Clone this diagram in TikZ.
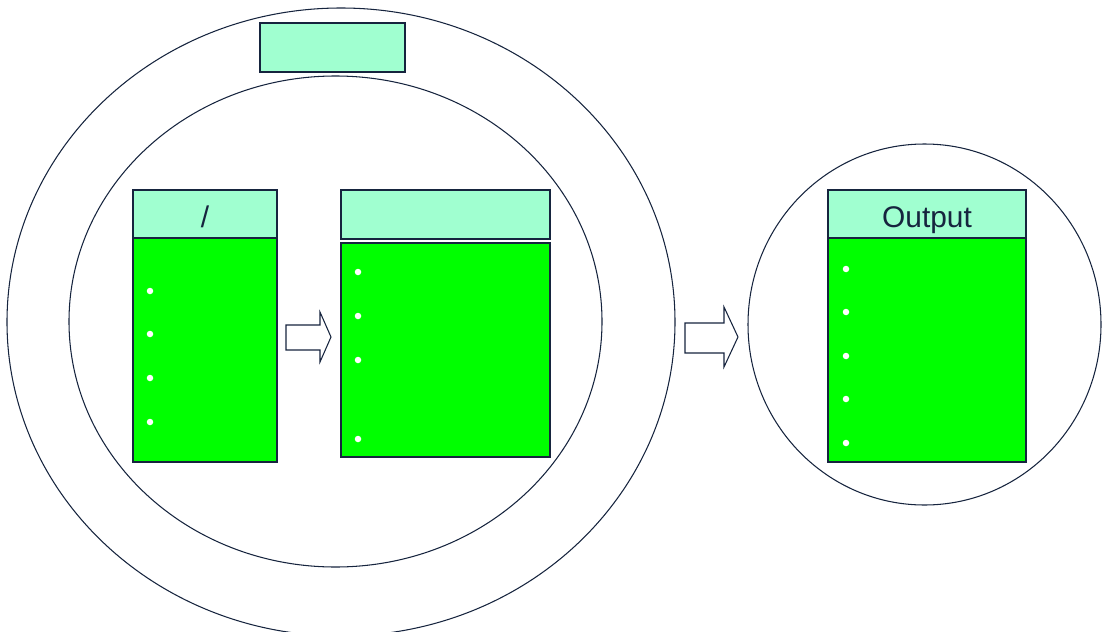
\documentclass[tikz,border=0pt]{standalone}
\usepackage{fontspec}
\setmainfont{Liberation Sans}
\usetikzlibrary{shapes.geometric}
\definecolor{navy}{RGB}{22,36,62}
\definecolor{mint}{RGB}{160,255,208}
\definecolor{lime}{RGB}{0,255,0}
\tikzset{
  ring/.style={draw=navy, line width=0.6pt, ellipse, inner sep=0pt},
  hdr/.style={draw=navy, line width=0.7pt, fill=mint, rectangle, inner sep=0pt, text=navy, font=\fontsize{17}{20}\selectfont},
  body/.style={draw=navy, line width=0.7pt, fill=lime, rectangle, inner sep=0pt},
  dot/.style={circle, fill=white, inner sep=0pt, minimum size=0.13cm},
  blockarrow/.style={draw=navy, line width=0.6pt, fill=white, line join=miter}
}
\newcommand\hdrtext[1]{\smash{\raisebox{-7.9pt}{#1}}}
\begin{document}
\begin{tikzpicture}[x=0.02cm, y=-0.02cm]
\useasboundingbox (0,0) rectangle (1102,632);
% rings
\node[ring, minimum width={668*0.02cm}, minimum height={628*0.02cm}] (outer) at (341,322) {};
\node[ring, minimum width={533*0.02cm}, minimum height={491*0.02cm}] (inner) at (335.5,321.5) {};
\node[ring, minimum width={353*0.02cm}, minimum height={361*0.02cm}] (right) at (924.5,324.5) {};
% top box
\node[hdr, minimum width={145*0.02cm}, minimum height={49*0.02cm}] (top) at (332.5,47.5) {};
% box 1
\node[body, minimum width={144*0.02cm}, minimum height={224*0.02cm}] (b1) at (205,350) {};
\node[hdr, minimum width={144*0.02cm}, minimum height={48*0.02cm}] (h1) at (205,214) {\hdrtext{/}};
% box 2
\node[body, minimum width={209*0.02cm}, minimum height={214*0.02cm}] (b2) at (445.5,350) {};
\node[hdr, minimum width={209*0.02cm}, minimum height={49*0.02cm}] (h2) at (445.5,214.5) {};
% box 3
\node[body, minimum width={198*0.02cm}, minimum height={224*0.02cm}] (b3) at (927,350) {};
\node[hdr, minimum width={198*0.02cm}, minimum height={48*0.02cm}] (h3) at (927,214) {\hdrtext{Output}};
% bullets
\foreach \y [count=\i] in {291,334,378,422} \node[dot] (d1\i) at (150,\y) {};
\foreach \y [count=\i] in {272,316,360,439} \node[dot] (d2\i) at (358,\y) {};
\foreach \y [count=\i] in {269,312,356,399,443} \node[dot] (d3\i) at (846,\y) {};
% block arrows
\draw[blockarrow] (286,325) -- (320,325) -- (320,312) -- (331,337) -- (320,362) -- (320,350) -- (286,350) -- cycle;
\draw[blockarrow] (685,323) -- (724,323) -- (724,307) -- (738,337) -- (724,367) -- (724,353) -- (685,353) -- cycle;
\end{tikzpicture}
\end{document}
